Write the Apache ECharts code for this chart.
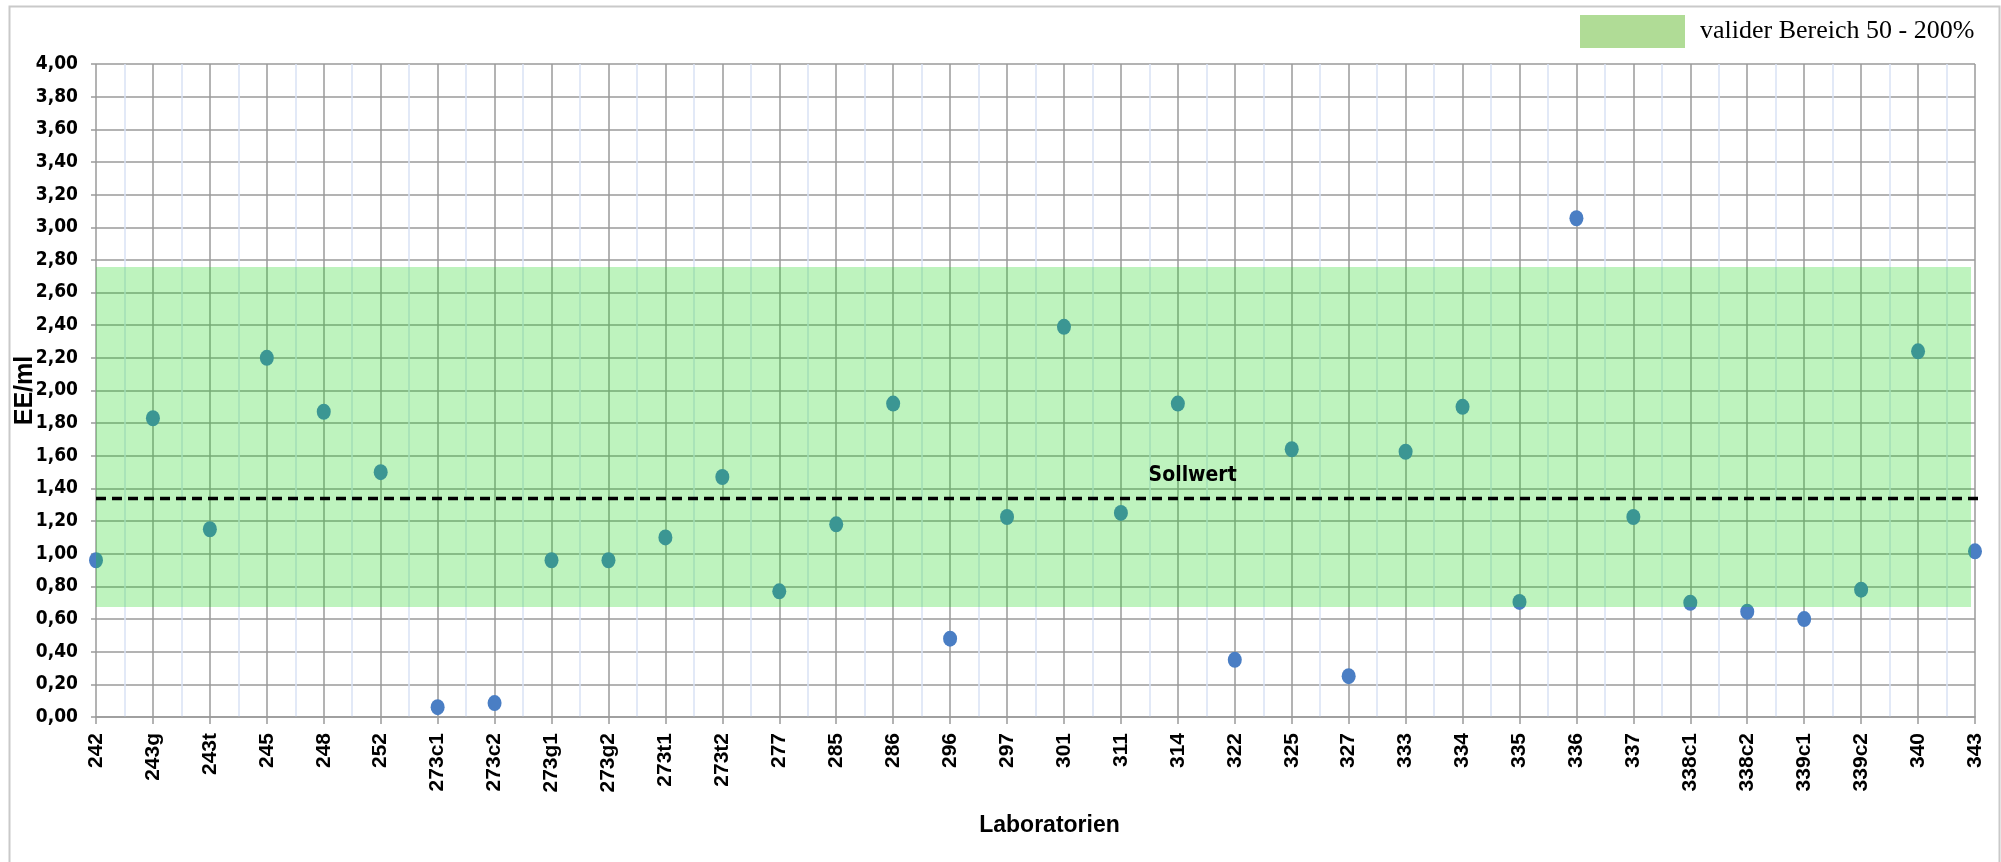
<!DOCTYPE html>
<html>
<head>
<meta charset="utf-8">
<script src="https://cdn.jsdelivr.net/npm/echarts@6/dist/echarts.min.js"></script>
<style>
html,body{margin:0;padding:0;background:#fff;}
#chart{width:2001px;height:862px;}
</style>
</head>
<body>
<div id="chart"></div>
<script>
const categories = ['242','243g','243t','245','248','252','273c1','273c2','273g1','273g2','273t1','273t2','277','285','286','296','297','301','311','314','322','325','327','333','334','335','336','337','338c1','338c2','339c1','339c2','340','343'];
const values = [0.96,1.83,1.15,2.20,1.87,1.50,0.06,0.085,0.96,0.96,1.10,1.47,0.77,1.18,1.92,0.48,1.225,2.39,1.25,1.92,0.35,1.64,0.25,1.625,1.90,0.705,3.055,1.225,0.70,0.645,0.60,0.78,2.24,1.015];
const sollwert = 1.338;
const bandLow = 0.674;
const bandHigh = 2.757;
const bandLabel = 'valider Bereich 50 - 200%';
const sollLabel = 'Sollwert';
const yTicks = {min: 0, max: 4, interval: 0.2};

const chart = echarts.init(document.getElementById('chart'), null, {renderer: 'canvas'});
const narrow = "'DejaVu Sans Condensed', 'Liberation Sans Narrow', 'Arial Narrow', Arial, sans-serif";
const arial = "Arial, 'Liberation Sans', sans-serif";
const lastIdx = categories.length - 1;

chart.setOption({
  animation: false,
  backgroundColor: '#ffffff',
  graphic: [{
    type: 'rect', left: 7, top: 4, z: -10, silent: true,
    shape: {width: 1990, height: 900},
    style: {fill: 'none', stroke: '#c9c9c9', lineWidth: 2}
  }],
  legend: {
    left: 1580, top: 15, padding: 0,
    itemWidth: 105, itemHeight: 33, icon: 'rect',
    selectedMode: false,
    data: [{name: bandLabel, itemStyle: {color: '#b0dc96'}}],
    textStyle: {fontFamily: "'Liberation Serif', 'Times New Roman', serif", fontSize: 26, color: '#000', padding: [0,0,0,10]}
  },
  grid: {left: 96, right: 26, top: 64, bottom: 145, containLabel: false, outerBoundsMode: 'none'},
  xAxis: [{
    type: 'category', data: categories, boundaryGap: false,
    name: 'Laboratorien', nameLocation: 'middle', nameGap: 97, nameMoveOverlap: false,
    nameTextStyle: {fontFamily: arial, fontWeight: 'bold', fontSize: 23, color: '#000', padding: [0, 0, 0, 28]},
    axisLine: {show: true, lineStyle: {color: '#9a9a9a', width: 1.5}},
    axisTick: {show: true, length: 7, alignWithLabel: true, interval: 0, lineStyle: {color: '#9a9a9a', width: 1.5}},
    axisLabel: {interval: 0, rotate: 90, margin: 16, fontFamily: arial, fontWeight: 'bold', fontSize: 21, color: '#000'},
    splitLine: {show: true, interval: 0, lineStyle: {color: '#9a9a9a', width: 1.5}}
  }, {
    type: 'value', min: 0, max: lastIdx, interval: 1, show: true, position: 'top',
    axisLine: {show: false}, axisTick: {show: false}, axisLabel: {show: false},
    splitLine: {show: false},
    minorTick: {show: false, splitNumber: 2},
    minorSplitLine: {show: true, lineStyle: {color: '#d9e2f5', width: 1.5}}
  }],
  yAxis: {
    type: 'value', min: yTicks.min, max: yTicks.max, interval: yTicks.interval,
    name: 'EE/ml', nameLocation: 'middle', nameGap: 58, nameRotate: 90, nameMoveOverlap: false,
    nameTextStyle: {fontFamily: arial, fontWeight: 'bold', fontSize: 25, color: '#000'},
    axisLine: {show: false},
    axisTick: {show: true, length: 5, lineStyle: {color: '#9a9a9a', width: 1.5}},
    axisLabel: {margin: 18, fontFamily: narrow, fontWeight: 'bold', fontSize: 19, color: '#000',
      formatter: v => v.toFixed(2).replace('.', ',')},
    splitLine: {show: true, lineStyle: {color: '#9a9a9a', width: 1.5}}
  },
  series: [{
    type: 'scatter', name: 'Werte', data: values, xAxisIndex: 0, yAxisIndex: 0,
    symbol: 'circle', symbolSize: [14, 16], z: 2,
    itemStyle: {color: '#4a7ec4', opacity: 1}
  }, {
    type: 'line', name: bandLabel, data: [], xAxisIndex: 1, yAxisIndex: 0, clip: false, z: 5,
    markArea: {
      silent: true, z: 5,
      itemStyle: {color: 'rgba(20,212,23,0.28)', borderWidth: 0},
      data: [[{coord: [-0.1, bandLow]}, {coord: [lastIdx - 0.07, bandHigh]}]]
    },
    markPoint: {
      silent: true, symbol: 'circle', symbolSize: 0, z: 7,
      label: {show: true, formatter: sollLabel, offset: [0, -23], fontFamily: narrow, fontWeight: 'bold', fontSize: 21, color: '#000'},
      data: [{coord: [19.26, sollwert]}]
    }
  }, {
    type: 'line', name: sollLabel, xAxisIndex: 1, yAxisIndex: 0, clip: false, z: 6,
    data: [[0, sollwert], [lastIdx + 0.1, sollwert]],
    symbol: 'none', silent: true,
    lineStyle: {color: '#000', type: [10, 6], width: 3.5}
  }]
});
</script>
</body>
</html>
